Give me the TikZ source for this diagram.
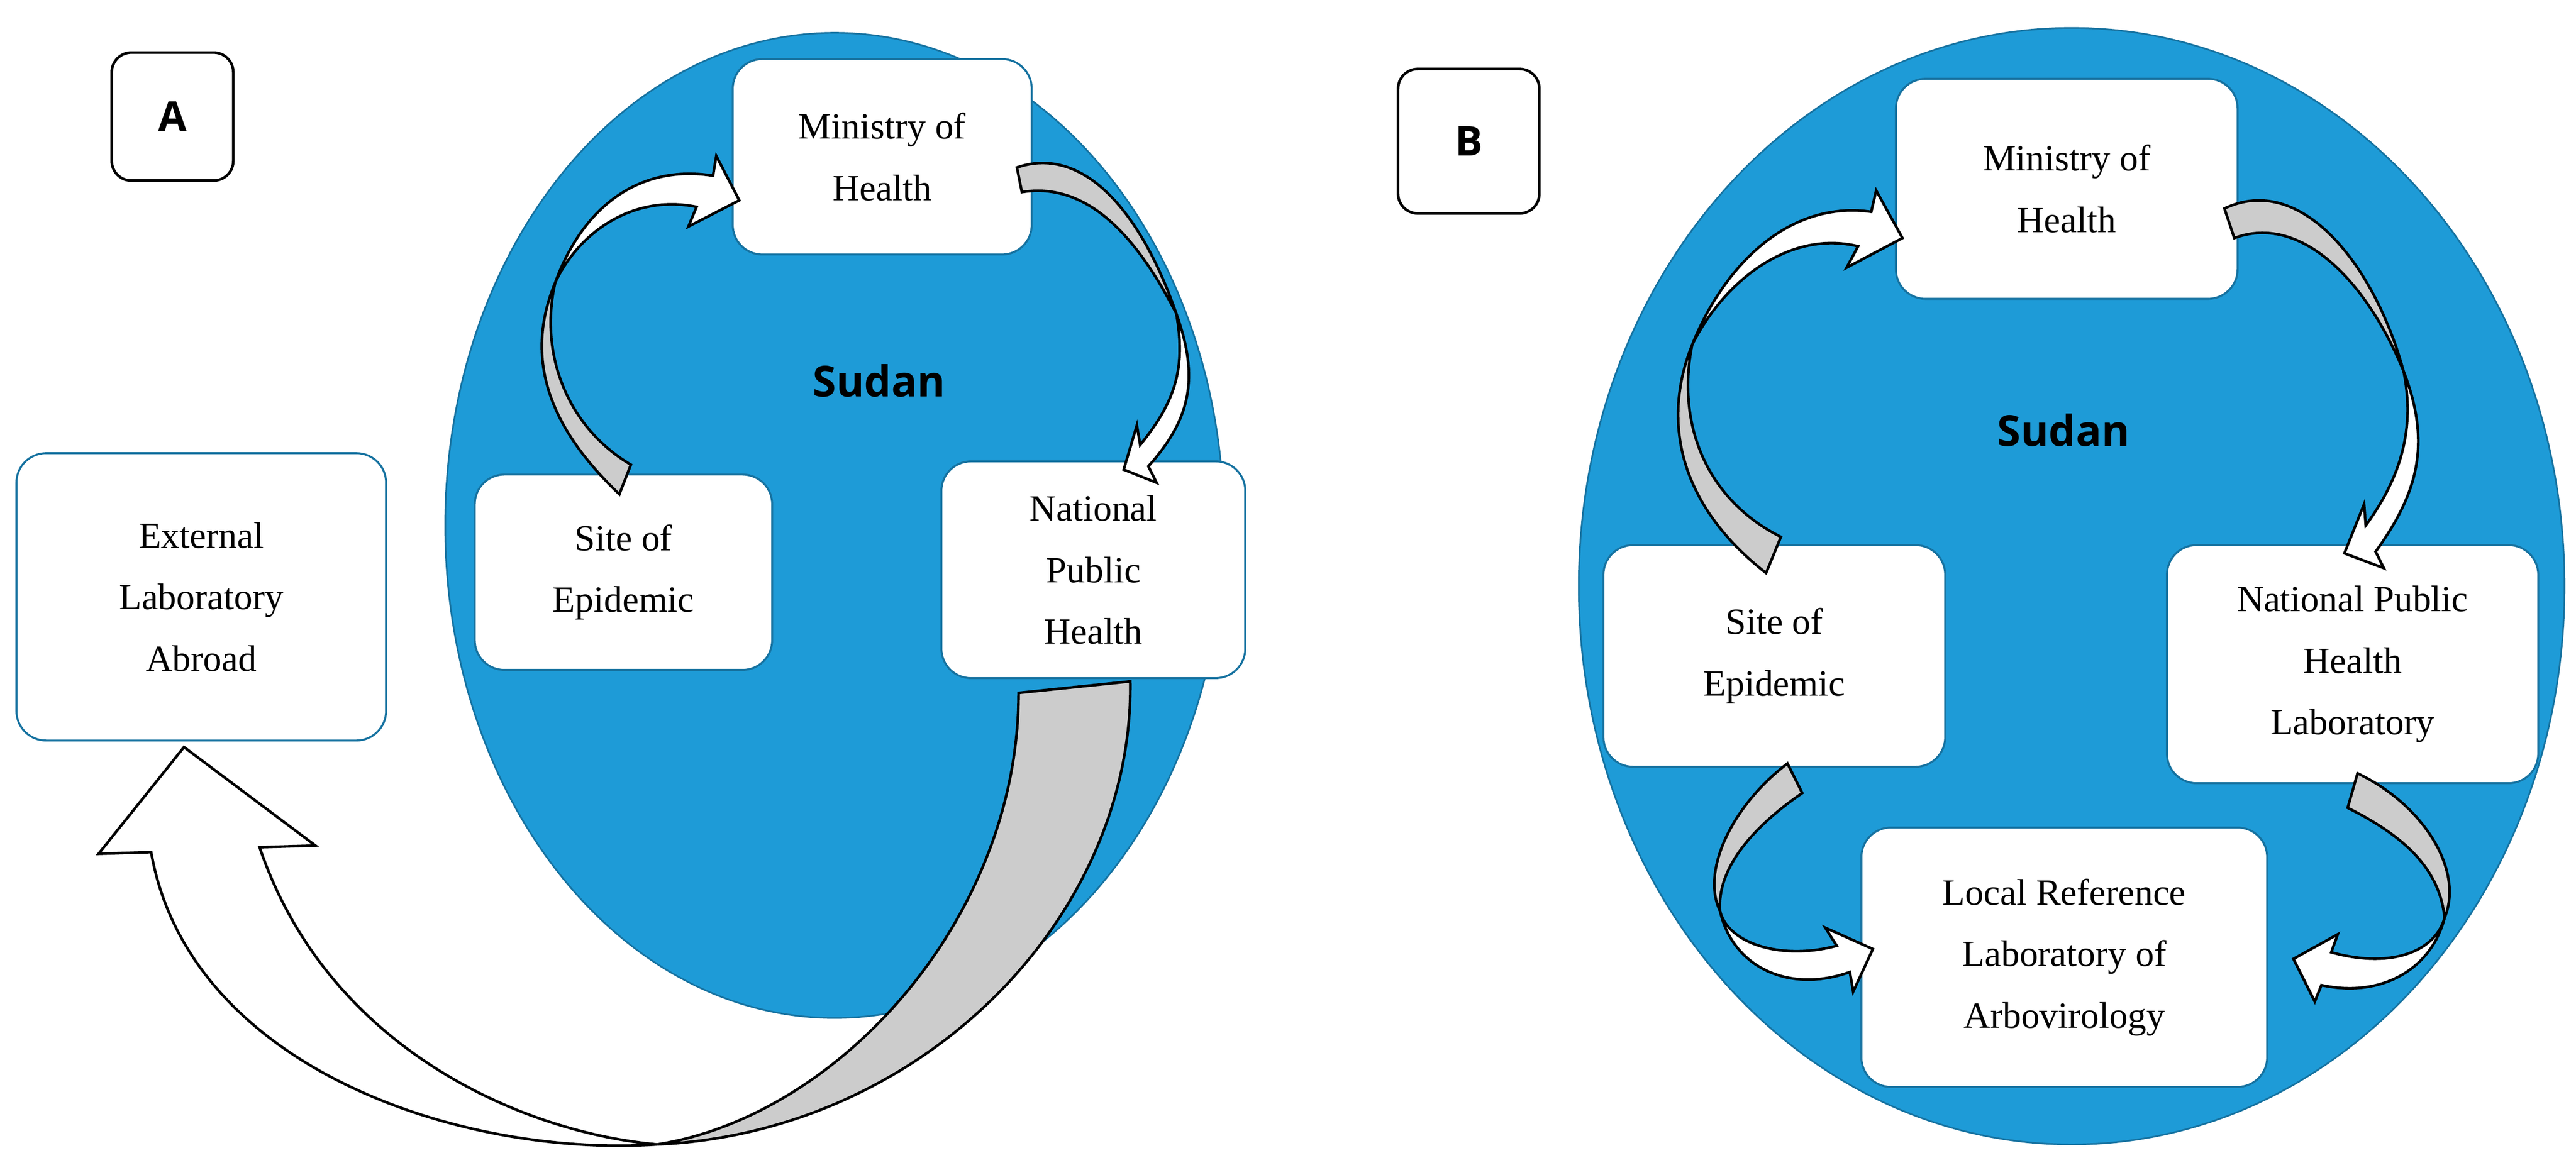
\documentclass[tikz,border=0pt]{standalone}
\usepackage{fontspec}
\usetikzlibrary{shapes.geometric}
\setmainfont{Liberation Serif}
\newfontfamily\sudanfont{Open Sans}
\definecolor{sudanblue}{HTML}{1E9BD7}
\definecolor{edgeblue}{HTML}{1672A0}
\definecolor{ribgrey}{HTML}{CCCCCC}
\begin{document}
\begin{tikzpicture}[x=1pt,y=-1pt,
  box/.style={draw=edgeblue,line width=1.2pt,fill=white,rounded corners=18pt,align=center,
    font=\fontsize{22.5}{37.5}\selectfont},
  lbl/.style={draw=black,line width=1.6pt,fill=white,rounded corners=12pt,font=\sudanfont\bfseries\fontsize{25}{28}\selectfont},
  country/.style={draw=edgeblue,line width=1pt,fill=sudanblue},
  rib/.style={draw=black,line width=1.6pt,line join=miter},
  sudan/.style={font=\sudanfont\bfseries\fontsize{26}{30}\selectfont}]
\useasboundingbox (0,0) rectangle (1568,715.4);
% ---------- Panel A ----------
\node[country,ellipse,minimum width=474pt,minimum height=600pt,inner sep=0pt] (ellA) at (508,320) {};
\node[lbl,minimum width=74pt,minimum height=78pt] (labA) at (105,71) {A};
\node[sudan] (sudA) at (535,232) {Sudan};
\node[box,minimum width=182pt,minimum height=119pt] (moh) at (537,95.5) {Ministry of\\Health};
\node[box,minimum width=181pt,minimum height=119pt] (site) at (379.5,348.5) {Site of\\Epidemic};
\node[box,minimum width=185pt,minimum height=132pt] (nph) at (665.5,347) {National\\Public\\Health};
\node[box,minimum width=225pt,minimum height=175pt] (ext) at (122.5,363.5) {External\\Laboratory\\Abroad};
% Site -> Ministry
\path[rib,fill=ribgrey] (377,301) .. controls (336,262) and (318,220) .. (338,172)
  .. controls (328,215) and (345,260) .. (384,283) -- cycle;
\path[rib,fill=white] (338,172) .. controls (355,125) and (390,100) .. (434,107) -- (436,95) -- (450,122)
  -- (419,138) -- (424,126) .. controls (385,118) and (352,142) .. (338,172) -- cycle;
% Ministry -> National Public Health
\path[rib,fill=ribgrey] (619,102) .. controls (660,88) and (695,130) .. (716,191)
  .. controls (695,150) and (665,110) .. (622,117) -- cycle;
\path[rib,fill=white] (716,191) .. controls (730,230) and (725,255) .. (699,284) -- (704,294) -- (684,286)
  -- (692,259) -- (694,271) .. controls (715,245) and (722,225) .. (716,191) -- cycle;
% National Public Health -> External Laboratory
\path[rib,fill=ribgrey] (620,422) .. controls (620,560) and (510,680) .. (400,697)
  .. controls (560,690) and (690,560) .. (688,415) -- cycle;
\path[rib,fill=white] (112,455) -- (192,515) -- (158,516) .. controls (200,640) and (320,690) .. (400,697)
  .. controls (280,705) and (115,650) .. (92,519) -- (60,520) -- cycle;
% ---------- Panel B ----------
\node[country,ellipse,minimum width=600pt,minimum height=680pt,inner sep=0pt] (ellB) at (1261,357) {};
\node[lbl,minimum width=86pt,minimum height=88pt] (labB) at (894,86) {B};
\node[sudan] (sudB) at (1256,262) {Sudan};
\node[box,minimum width=208pt,minimum height=134pt] (mohB) at (1258,115) {Ministry of\\Health};
\node[box,minimum width=208pt,minimum height=135pt] (siteB) at (1080,399.5) {Site of\\Epidemic};
\node[box,minimum width=226pt,minimum height=145pt] (nphl) at (1432,404.5) {National Public\\Health\\Laboratory};
\node[box,minimum width=247pt,minimum height=158pt] (lra) at (1256.5,583) {Local Reference\\Laboratory of\\Arbovirology};
% Site -> Ministry
\path[rib,fill=ribgrey] (1075,349) .. controls (1025,310) and (1010,260) .. (1030,210)
  .. controls (1020,260) and (1040,305) .. (1084,327) -- cycle;
\path[rib,fill=white] (1030,210) .. controls (1050,160) and (1090,122) .. (1139,129) -- (1142,116) -- (1158,145)
  -- (1124,163) -- (1131,150) .. controls (1090,140) and (1050,170) .. (1030,210) -- cycle;
% Ministry -> NPHL
\path[rib,fill=ribgrey] (1354,127) .. controls (1400,105) and (1445,160) .. (1463,226)
  .. controls (1440,170) and (1400,130) .. (1360,145) -- cycle;
\path[rib,fill=white] (1463,226) .. controls (1480,270) and (1472,300) .. (1446,336) -- (1451,346) -- (1427,337)
  -- (1439,307) -- (1440,320) .. controls (1462,290) and (1470,260) .. (1463,226) -- cycle;
% Site -> Local Reference
\path[rib,fill=ribgrey] (1088,465) .. controls (1055,490) and (1035,530) .. (1047,555)
  .. controls (1045,530) and (1065,505) .. (1097,483) -- cycle;
\path[rib,fill=white] (1047,555) .. controls (1055,590) and (1090,605) .. (1126,592) -- (1128,604) -- (1140,578)
  -- (1111,565) -- (1118,576) .. controls (1085,585) and (1052,575) .. (1047,555) -- cycle;
% NPHL -> Local Reference
\path[rib,fill=ribgrey] (1435,471) .. controls (1475,490) and (1500,530) .. (1488,559)
  .. controls (1485,530) and (1465,510) .. (1429,492) -- cycle;
\path[rib,fill=white] (1488,559) .. controls (1480,590) and (1450,608) .. (1413,600) -- (1409,610) -- (1396,584)
  -- (1423,569) -- (1419,580) .. controls (1455,590) and (1482,580) .. (1488,559) -- cycle;
\end{tikzpicture}
\end{document}
